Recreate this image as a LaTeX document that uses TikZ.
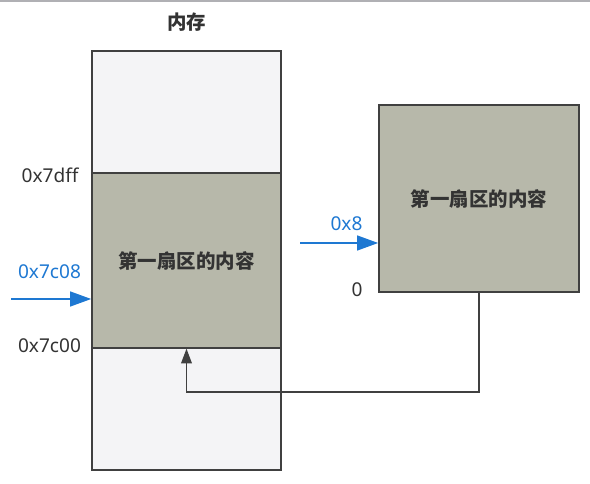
\documentclass[tikz,border=0pt]{standalone}
\usepackage{fontspec}
\setmainfont{Noto Sans}
\newfontfamily\cjk{Noto Sans CJK SC}
\usetikzlibrary{arrows.meta,calc}
\definecolor{memfill}{RGB}{244,244,246}
\definecolor{secfill}{RGB}{183,184,170}
\definecolor{edge}{RGB}{64,64,64}
\definecolor{txt}{RGB}{51,51,51}
\definecolor{blu}{RGB}{30,120,210}
\tikzset{
  box/.style={draw=edge, line width=1pt, inner sep=0pt, rectangle},
  cjklabel/.style={font=\cjk\bfseries\fontsize{14.6}{16}\selectfont, text=txt},
  addr/.style={font=\fontsize{14.3}{16}\selectfont, text=txt, inner sep=0pt},
  baddr/.style={font=\fontsize{14.3}{16}\selectfont, text=blu, inner sep=0pt},
  bluearrow/.style={draw=blu, line width=2pt, -{Triangle[length=16pt,width=11pt]}},
  blackarrow/.style={draw=edge, line width=1pt, -{Triangle[length=11pt,width=8pt]}}
}
\begin{document}
\begin{tikzpicture}[x=0.75pt,y=-0.75pt]
\useasboundingbox (0,0) rectangle (590,484);
\draw[color={rgb,255:red,176;green,176;blue,180}, line width=1.2pt] (0,0.8) -- (590,0.8);
\node[cjklabel] (title) at (186.5,22) {内存};
\node[box, fill=memfill, minimum width=141.75pt, minimum height=314.25pt] (mem) at (186.5,260.5) {};
\node[box, fill=secfill, minimum width=141.75pt, minimum height=131.25pt, cjklabel] (sector) at (186.5,260.5) {第一扇区的内容};
\node[box, fill=secfill, minimum width=150pt, minimum height=140.25pt, cjklabel] (right) at (479,198.5) {第一扇区的内容};
\node[addr] (l7dff) at (50,175) {0x7dff};
\node[addr] (l7c00) at (49.5,346) {0x7c00};
\node[baddr] (l7c08) at (49.5,272) {0x7c08};
\node[baddr] (l8) at (346.5,224) {0x8};
\node[addr] (l0) at (357,290) {0};
\coordinate (a1) at (11,299);
\coordinate (a2) at (300,243);
\coordinate (turn) at (186.5,392);
\draw[bluearrow] (a1) -- (sector.west |- a1);
\draw[bluearrow] (a2) -- (right.west |- a2);
\draw[blackarrow] (right.south) |- (turn) -- (sector.south);
\end{tikzpicture}
\end{document}
